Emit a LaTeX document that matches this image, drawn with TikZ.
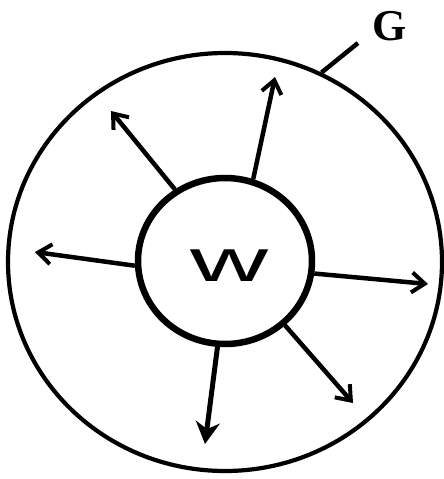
\documentclass[tikz,border=0pt]{standalone}
\usepackage{fontspec}
\setmainfont{Liberation Serif}
\newfontfamily\handsans{Liberation Sans}
\usetikzlibrary{shapes.geometric,arrows.meta}
\begin{document}
\begin{tikzpicture}[x=1pt,y=-1pt,
  ring/.style={draw=black,ellipse,inner sep=0pt},
  ray/.style={line width=4.5pt,-{Straight Barb[length=13pt,width=20pt,line width=4pt]}},
  bigray/.style={line width=5pt,-{Stealth[length=22pt,width=24pt,inset=7pt]}},
  lead/.style={line width=4.5pt}]
\useasboundingbox[fill=white] (0,0) rectangle (444,479);
\node[ring,line width=4.2pt,minimum width=434pt,minimum height=418pt] (c) at (225,262) {};
\node[ring,line width=6.5pt,minimum width=174pt,minimum height=166pt] (w) at (225,261) {};
\node (wl) at (229,266) {\handsans\scalebox{1.8}[1]{\fontsize{60}{60}\selectfont w}};
\coordinate (t1) at (111,111);
\coordinate (t2) at (275,77);
\coordinate (t3) at (35,252);
\coordinate (t4) at (428,284);
\coordinate (t5) at (353,403);
\coordinate (t6) at (205,444);
\draw[ray] (w.125) -- (t1);
\draw[ray] (w.71) -- (t2);
\draw[ray] (w.183) -- (t3);
\draw[ray] (w.352) -- (t4);
\draw[ray] (w.313) -- (t5);
\draw[bigray] (w.265) -- (t6);
\coordinate (le) at (358,43);
\draw[lead] (c.63) -- (le);
\node (cl) at (390,26) {\bfseries\fontsize{44}{44}\selectfont G};
\end{tikzpicture}
\end{document}
